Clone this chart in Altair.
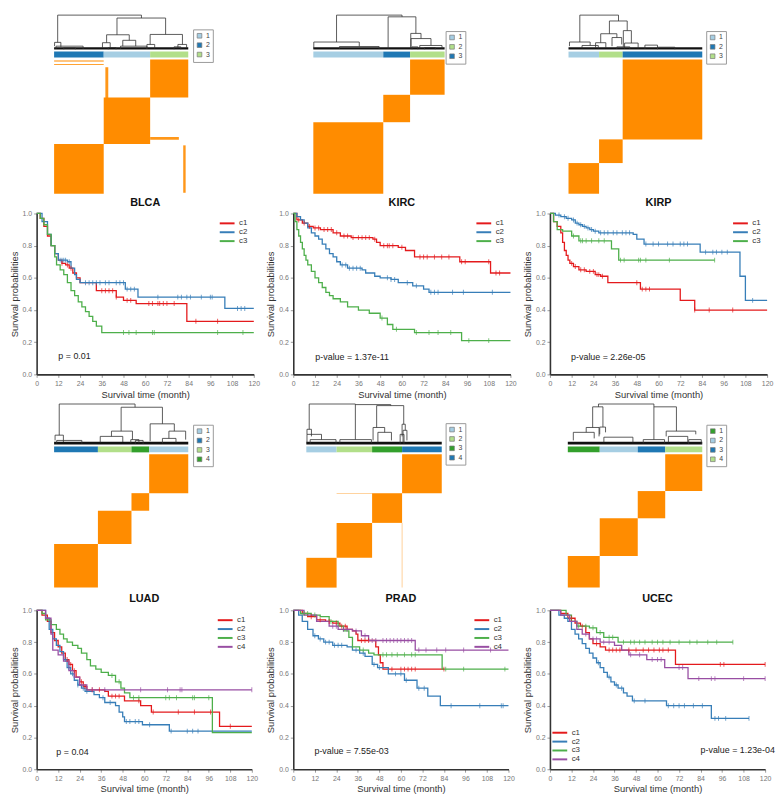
import altair as alt
import numpy as np
import pandas as pd

FONT = "Liberation Sans"
ORANGE = "#ff8c00"
LB, DB, LG, DG = "#a6cee3", "#1f78b4", "#b2df8a", "#33a02c"
KM_COLORS = ["#e41a1c", "#377eb8", "#4daf4a", "#984ea3"]

# ---------------- consensus heatmaps: cluster order, sizes, legend colours ----------------
blca_order = ["2", "1", "3"]
blca_sizes = [51.3, 48.0, 39.4]
blca_palette = {"1": LB, "2": DB, "3": LG}
kirc_order = ["1", "3", "2"]
kirc_sizes = [72.3, 27.7, 35.7]
kirc_palette = {"1": LB, "2": LG, "3": DB}
kirp_order = ["1", "3", "2"]
kirp_sizes = [31.6, 24.4, 82.3]
kirp_palette = {"1": LB, "2": DB, "3": LG}
luad_order = ["2", "3", "4", "1"]
luad_sizes = [45.3, 34.7, 18.3, 40.4]
luad_palette = {"1": LB, "2": DB, "3": LG, "4": DG}
prad_order = ["1", "2", "3", "4"]
prad_sizes = [31.3, 36.7, 31.0, 41.0]
prad_palette = {"1": LB, "2": LG, "3": DG, "4": DB}
ucec_order = ["1", "2", "3", "4"]
ucec_sizes = [33.0, 39.3, 28.4, 38.3]
ucec_palette = {"1": DG, "2": LB, "3": DB, "4": LG}

# dendrogram merges: (left x, right x, height, left child height, right child height)
blca_merges = [(3.7, 90.3, 1.0, 0.21, 0.915), (65, 115.3, 0.915, 0.43, 0.44), (54.3, 77.7, 0.43, 0.2, 0.27),
               (71, 84.4, 0.27, 0.1, 0.1), (68.7, 96, 0.1, 0.02, 0.02), (50, 58, 0.2, 0.05, 0.04),
               (99.3, 132.7, 0.44, 0.15, 0.15), (96, 104, 0.15, 0.03, 0.03), (128, 137, 0.15, 0.04, 0.05),
               (0.5, 7, 0.21, 0.1, 0.08), (2, 30, 0.1, 0.02, 0.02), (56, 64, 0.06, 0.01, 0.01),
               (124, 131, 0.08, 0.01, 0.01), (10, 22, 0.05, 0.01, 0.01)]
kirc_merges = [(24, 91.7, 1.0, 0.22, 0.95), (77.3, 106, 0.95, 0.03, 0.47), (100.7, 111.3, 0.47, 0.03, 0.32),
               (101, 121.6, 0.32, 0.05, 0.12), (110, 133, 0.12, 0.03, 0.03), (0.5, 47.5, 0.22, 0.03, 0.09),
               (27, 68, 0.09, 0.02, 0.02), (102, 108, 0.08, 0.01, 0.01), (115, 126, 0.06, 0.01, 0.01)]
kirp_merges = [(11.7, 51.7, 1.0, 0.22, 0.83), (42.3, 60.7, 0.83, 0.46, 0.55), (33.3, 50, 0.46, 0.2, 0.35),
               (45, 55, 0.35, 0.1, 0.15), (56.7, 65, 0.55, 0.08, 0.19), (58, 72, 0.19, 0.03, 0.03),
               (50, 63.4, 0.08, 0.02, 0.02), (1, 22.4, 0.22, 0.1, 0.12), (14, 30.8, 0.12, 0.03, 0.03),
               (28, 38.6, 0.2, 0.05, 0.05), (79, 92, 0.13, 0.02, 0.02), (92, 110, 0.07, 0.01, 0.01)]
luad_merges = [(5.3, 83.7, 1.0, 0.23, 0.92), (69.3, 112, 0.92, 0.33, 0.51), (59.3, 81, 0.33, 0.2, 0.12),
               (47.7, 71, 0.2, 0.05, 0.06), (79.3, 87.7, 0.12, 0.03, 0.03), (99.3, 124.3, 0.51, 0.08, 0.33),
               (118.7, 136, 0.33, 0.15, 0.12), (112, 126, 0.15, 0.03, 0.04), (1, 9.6, 0.23, 0.1, 0.06),
               (2.7, 28.7, 0.1, 0.02, 0.02), (84, 92, 0.1, 0.01, 0.01)]
prad_merges = [(3, 50.7, 1.0, 0.375, 0.12), (50.7, 87.3, 0.985, 0.985, 0.96), (72.7, 100.7, 0.96, 0.42, 0.5),
               (69, 81, 0.42, 0.1, 0.3), (74, 88, 0.3, 0.05, 0.1), (99, 102.3, 0.5, 0.2, 0.35),
               (100, 104, 0.35, 0.05, 0.1), (0.7, 5.3, 0.375, 0.25, 0.2), (0.7, 15.7, 0.25, 0.05, 0.12),
               (4, 30.7, 0.12, 0.02, 0.02), (34.7, 67.3, 0.12, 0.03, 0.03), (97, 101, 0.25, 0.01, 0.01)]
ucec_merges = [(31.7, 89, 1.0, 0.93, 0.93), (25.7, 36.3, 0.93, 0.42, 0.43), (19, 32.3, 0.42, 0.3, 0.2),
               (5.7, 27.3, 0.3, 0.1, 0.15), (33, 39, 0.43, 0.25, 0.3), (37.3, 67.3, 0.18, 0.05, 0.05),
               (89, 112.3, 0.93, 0.12, 0.33), (78, 100, 0.12, 0.03, 0.03), (101.7, 132.3, 0.33, 0.2, 0.25),
               (104, 124, 0.2, 0.05, 0.05), (125, 138, 0.12, 0.01, 0.01)]

# off-diagonal consensus fragments: (x0, x1, y0, y1, opacity)
blca_extras = [(0, 51.3, 136.5, 137.7, 1.0), (0, 51.3, 133, 134, 0.8), (53, 56, 98.7, 130.7, 0.9),
               (133.5, 136, 1, 50, 0.9), (99.3, 129, 55.7, 58.5, 0.9)]
prad_extras = [(31.3, 99, 98.6, 99.4, 0.5), (98.6, 99.4, 0, 68, 0.5)]

# ---------------- Kaplan-Meier curves (times, survival, censor times) ----------------
blca_c1_t = [0, 2, 4, 6, 8, 10, 12, 14, 16, 18, 20, 22, 24, 33, 44, 48, 55, 83]
blca_c1_s = [1.0, 0.97, 0.92, 0.86, 0.80, 0.75, 0.71, 0.69, 0.68, 0.66, 0.63, 0.60, 0.57, 0.52, 0.48, 0.46, 0.44, 0.33]
blca_c1_c = [14, 17, 19, 36, 38, 40, 42, 44, 50, 52, 62, 64, 67, 68, 70, 72, 76, 88, 100]
blca_c2_t = [0, 3, 6, 8, 10, 12, 17, 19, 21, 22, 24, 49, 56, 104]
blca_c2_s = [1.0, 0.95, 0.87, 0.80, 0.75, 0.71, 0.70, 0.66, 0.62, 0.59, 0.57, 0.53, 0.48, 0.41]
blca_c2_c = [13, 14, 15, 16, 18, 27, 29, 31, 33, 35, 38, 40, 44, 46, 48, 50, 52, 54, 67, 78, 80, 83, 85, 91, 96, 97, 111, 113, 115]
blca_c3_t = [0, 2, 4, 6, 8, 10, 11, 13, 15, 17, 19, 21, 23, 25, 27, 29, 31, 33, 36]
blca_c3_s = [1.0, 0.97, 0.93, 0.87, 0.80, 0.73, 0.68, 0.65, 0.62, 0.57, 0.52, 0.49, 0.45, 0.42, 0.39, 0.36, 0.33, 0.30, 0.26]
blca_c3_c = [48, 51, 55, 64, 65, 100, 114]

kirc_c1_t = [0, 2, 5, 8, 11, 15, 22, 26, 32, 44, 46, 48, 58, 62, 67, 92, 109]
kirc_c1_s = [1.0, 0.96, 0.94, 0.92, 0.91, 0.90, 0.88, 0.86, 0.85, 0.84, 0.82, 0.80, 0.79, 0.77, 0.73, 0.70, 0.63]
kirc_c1_c = [3, 6, 9, 12, 14, 17, 19, 21, 24, 28, 30, 33, 36, 38, 40, 42, 45, 50, 52, 53, 55, 60, 70, 72, 74, 78, 82, 86, 93, 95, 108, 112, 114]
kirc_c2_t = [0, 2, 4, 6, 8, 10, 12, 14, 16, 18, 20, 22, 24, 26, 30, 38, 40, 45, 48, 54, 58, 66, 72, 75]
kirc_c2_s = [1.0, 0.98, 0.96, 0.94, 0.91, 0.88, 0.86, 0.84, 0.81, 0.78, 0.75, 0.73, 0.70, 0.68, 0.66, 0.65, 0.63, 0.61, 0.60, 0.59, 0.57, 0.55, 0.53, 0.51]
kirc_c2_c = [27, 29, 31, 33, 35, 37, 52, 54, 56, 63, 68, 76, 78, 80, 88, 94, 110]
kirc_c3_t = [0, 1, 2, 3, 4, 5, 6, 7, 8, 10, 12, 14, 16, 18, 20, 22, 26, 30, 36, 42, 48, 52, 55, 67, 93]
kirc_c3_s = [1.0, 0.95, 0.90, 0.86, 0.82, 0.78, 0.74, 0.71, 0.68, 0.64, 0.60, 0.57, 0.54, 0.51, 0.49, 0.47, 0.45, 0.42, 0.40, 0.38, 0.35, 0.31, 0.28, 0.26, 0.21]
kirc_c3_c = [49, 57, 68, 75, 80, 87, 97, 108]

kirp_c1_t = [0, 2, 4, 6, 7, 8, 9, 10, 11, 13, 16, 20, 25, 28, 32, 50, 72, 80]
kirp_c1_s = [1.0, 0.95, 0.92, 0.88, 0.82, 0.77, 0.74, 0.71, 0.69, 0.67, 0.65, 0.64, 0.62, 0.61, 0.57, 0.53, 0.46, 0.40]
kirp_c1_c = [12, 14, 17, 19, 22, 24, 26, 27, 29, 48, 51, 53, 55, 80, 88, 101]
kirp_c2_t = [0, 3, 6, 9, 12, 14, 16, 18, 20, 22, 24, 27, 46, 48, 52, 83, 105, 108]
kirp_c2_s = [1.0, 0.99, 0.98, 0.97, 0.96, 0.94, 0.93, 0.92, 0.91, 0.90, 0.89, 0.88, 0.87, 0.84, 0.81, 0.76, 0.61, 0.46]
kirp_c2_c = [5, 8, 10, 13, 15, 17, 19, 21, 23, 25, 28, 30, 32, 35, 37, 40, 42, 44, 53, 57, 60, 65, 68, 72, 74, 76, 86, 90, 92, 95, 98, 112]
kirp_c3_t = [0, 2, 4, 7, 12, 16, 34, 38]
kirp_c3_s = [1.0, 0.95, 0.90, 0.89, 0.86, 0.83, 0.78, 0.71]
kirp_c3_c = [13, 17, 18, 20, 23, 27, 30, 39, 41, 49, 50, 53, 66, 91]

luad_c1_t = [0, 3, 6, 8, 10, 12, 14, 16, 18, 20, 22, 24, 26, 28, 38, 40, 49, 58, 64, 102]
luad_c1_s = [1.0, 0.97, 0.93, 0.86, 0.81, 0.77, 0.73, 0.69, 0.66, 0.62, 0.58, 0.55, 0.52, 0.50, 0.49, 0.46, 0.43, 0.40, 0.36, 0.27]
luad_c1_c = [17, 19, 21, 25, 27, 31, 35, 42, 44, 46, 57, 65, 79, 88, 97, 108]
luad_c2_t = [0, 5, 7, 9, 11, 13, 15, 17, 19, 21, 23, 25, 27, 32, 35, 38, 44, 46, 48, 49, 59, 74]
luad_c2_s = [1.0, 0.95, 0.88, 0.82, 0.78, 0.74, 0.69, 0.64, 0.60, 0.56, 0.53, 0.51, 0.49, 0.47, 0.45, 0.42, 0.40, 0.36, 0.33, 0.30, 0.28, 0.24]
luad_c2_c = [16, 18, 20, 23, 26, 28, 37, 41, 50, 52, 55, 57, 63, 75, 84, 87, 90]
luad_c3_t = [0, 3, 5, 8, 11, 13, 15, 17, 20, 23, 25, 28, 30, 33, 36, 40, 44, 47, 49, 52, 98]
luad_c3_s = [1.0, 0.98, 0.94, 0.91, 0.88, 0.85, 0.82, 0.80, 0.78, 0.76, 0.73, 0.69, 0.65, 0.63, 0.61, 0.59, 0.55, 0.51, 0.48, 0.45, 0.23]
luad_c3_c = [42, 46, 54, 57, 72, 74, 78, 87, 88, 96]
luad_c4_t = [0, 5, 8, 9, 12, 15, 18, 21, 24, 28]
luad_c4_s = [1.0, 0.95, 0.85, 0.75, 0.72, 0.68, 0.62, 0.58, 0.53, 0.50]
luad_c4_c = [31, 38, 58, 73, 80, 81, 120]

prad_c1_t = [0, 5, 8, 13, 18, 22, 26, 30, 33, 35, 36, 46, 47.5, 48.5, 50]
prad_c1_s = [1.0, 0.98, 0.96, 0.94, 0.93, 0.92, 0.90, 0.88, 0.87, 0.85, 0.81, 0.77, 0.72, 0.67, 0.63]
prad_c1_c = [10, 15, 20, 24, 27, 29, 38, 40, 42, 55, 60, 62, 64, 66, 68, 84]
prad_c2_t = [0, 3, 5, 8, 11, 14, 17, 22, 30, 33, 37, 40, 44, 47, 53, 62, 69, 75, 82]
prad_c2_s = [1.0, 0.97, 0.93, 0.88, 0.84, 0.82, 0.80, 0.78, 0.77, 0.75, 0.73, 0.71, 0.66, 0.64, 0.60, 0.56, 0.51, 0.46, 0.40]
prad_c2_c = [12, 15, 18, 20, 23, 25, 27, 35, 39, 45, 48, 57, 60, 63, 70, 73, 88, 104, 116, 117]
prad_c3_t = [0, 4, 10, 15, 20, 25, 28, 31, 33, 37, 42, 45, 83]
prad_c3_s = [1.0, 0.98, 0.97, 0.96, 0.93, 0.90, 0.87, 0.83, 0.77, 0.75, 0.73, 0.72, 0.63]
prad_c3_c = [6, 8, 12, 21, 33, 39, 50, 52, 55, 58, 62, 66, 68, 85, 95, 118]
prad_c4_t = [0, 6, 13, 20, 25, 33, 38, 42, 68]
prad_c4_s = [1.0, 0.97, 0.93, 0.90, 0.88, 0.87, 0.84, 0.81, 0.75]
prad_c4_c = [22, 24, 28, 30, 35, 40, 44, 46, 50, 52, 54, 56, 58, 60, 62, 64, 66, 70, 74, 80, 85, 95, 110]

ucec_c1_t = [0, 6, 10, 14, 17, 20, 22, 24, 28, 31, 70]
ucec_c1_s = [1.0, 0.98, 0.95, 0.92, 0.90, 0.86, 0.82, 0.79, 0.77, 0.75, 0.66]
ucec_c1_c = [12, 18, 26, 33, 35, 37, 39, 44, 48, 52, 55, 58, 61, 63, 66, 95, 97, 120]
ucec_c2_t = [0, 5, 8, 10, 12, 14, 16, 18, 20, 22, 24, 26, 28, 30, 32, 34, 36, 38, 41, 43, 46, 65, 90]
ucec_c2_s = [1.0, 0.97, 0.95, 0.93, 0.88, 0.85, 0.82, 0.79, 0.76, 0.73, 0.70, 0.67, 0.64, 0.61, 0.58, 0.55, 0.53, 0.51, 0.48, 0.46, 0.43, 0.40, 0.32]
ucec_c2_c = [27, 33, 37, 40, 47, 53, 66, 69, 72, 75, 80, 85, 92, 94, 98, 111]
ucec_c3_t = [0, 9, 12, 15, 22, 26, 30, 38]
ucec_c3_s = [1.0, 0.97, 0.93, 0.90, 0.89, 0.86, 0.83, 0.80]
ucec_c3_c = [16, 20, 24, 28, 33, 35, 41, 45, 47, 50, 53, 57, 60, 63, 67, 72, 78, 82, 88, 93, 102]
ucec_c4_t = [0, 6, 11, 15, 18, 22, 28, 36, 40, 44, 54, 64, 77]
ucec_c4_s = [1.0, 0.97, 0.93, 0.88, 0.85, 0.82, 0.80, 0.78, 0.75, 0.72, 0.69, 0.64, 0.57]
ucec_c4_c = [20, 24, 26, 30, 33, 45, 50, 57, 60, 62, 72, 74, 83, 90, 92, 108, 120]

ends_blca = [120, 120, 120]
ends_kirc = [120, 120, 120]
ends_kirp = [120, 120, 91]
ends_luad = [120, 120, 120, 120]
ends_prad = [84, 120, 120, 120]
ends_ucec = [120, 111, 102, 120]

pvals = ["p = 0.01", "p-value = 1.37e-11", "p-value = 2.26e-05",
         "p = 0.04", "p-value = 7.55e-03", "p-value = 1.23e-04"]
pval_x = [12, 12.2, 11.7, 11, 11.8, 84]
pval_y = [0.115, 0.107, 0.107, 0.108, 0.113, 0.123]

XTICKS = list(range(0, 121, 12))
YTICKS = [0.0, 0.2, 0.4, 0.6, 0.8, 1.0]


def heat_panel(order, sizes, palette, merges, extras, width, lp, mw,
               dendro_h, dendro_top, mat_h, mat_pad, lx, ly):
    N = float(sum(sizes))
    u = N / mw
    xs = alt.Scale(domain=[-lp * u, N + (width - lp - mw) * u], nice=False, zero=False)
    ends = np.cumsum(sizes)
    starts = ends - np.array(sizes)
    seg = []
    for xl, xr, h, hl, hr in merges:
        seg.append(dict(x=xl, x2=xr, y=h, y2=h))
        seg.append(dict(x=xl, x2=xl, y=hl, y2=h))
        seg.append(dict(x=xr, x2=xr, y=hr, y2=h))
    seg = pd.DataFrame(seg)
    ys = alt.Scale(domain=[0, dendro_top], nice=False, zero=True)
    fuzz = pd.DataFrame(dict(x=[0.0], x2=[N], y=[0.0], y2=[0.065]))
    fz = alt.Chart(fuzz).mark_rect(color="#111").encode(
        x=alt.X("x:Q", scale=xs, axis=None), x2="x2:Q",
        y=alt.Y("y:Q", scale=ys, axis=None), y2="y2:Q")
    dn = alt.Chart(seg).mark_rule(color="#333", strokeWidth=0.8).encode(
        x=alt.X("x:Q", scale=xs, axis=None), x2="x2:Q",
        y=alt.Y("y:Q", scale=ys, axis=None), y2="y2:Q")
    dend = alt.layer(fz, dn).properties(width=width, height=dendro_h)

    labs = sorted(palette)
    bar_df = pd.DataFrame(dict(label=order, start=starts, end=ends))
    bar = alt.Chart(bar_df).mark_rect().encode(
        x=alt.X("start:Q", scale=xs, axis=None), x2="end:Q",
        color=alt.Color("label:N",
                        scale=alt.Scale(domain=labs, range=[palette[k] for k in labs]),
                        legend=alt.Legend(title=None, orient="none", legendX=lx, legendY=ly,
                                          symbolType="square", symbolSize=22,
                                          symbolStrokeColor="#777", symbolStrokeWidth=0.7,
                                          labelFontSize=7, labelColor="#444", labelOffset=3,
                                          strokeColor="#999", fillColor="white", padding=3,
                                          rowPadding=0.5)),
    ).properties(width=width, height=6)

    rows = [dict(x0=a, x1=b, y0=a, y1=b, op=1.0) for a, b in zip(starts, ends)]
    rows += [dict(x0=a, x1=b, y0=c, y1=d, op=o) for a, b, c, d, o in extras]
    mat = alt.Chart(pd.DataFrame(rows)).mark_rect(color=ORANGE).encode(
        x=alt.X("x0:Q", scale=xs, axis=None), x2="x1:Q",
        y=alt.Y("y0:Q", scale=alt.Scale(domain=[-N * mat_pad / mat_h, N], nice=False, zero=False),
                axis=None), y2="y1:Q",
        opacity=alt.Opacity("op:Q", scale=None, legend=None),
    ).properties(width=width, height=mat_h + mat_pad)
    return dend, bar, mat


def km_chart(title, ts, ss, ends, cens, ptext, px, py, width, height, lorient, loffset):
    names = ["c%d" % (i + 1) for i in range(len(ts))]
    lrows, crows = [], []
    for name, t, s, e, c in zip(names, ts, ss, ends, cens):
        for a, b in zip(list(t) + [e], list(s) + [s[-1]]):
            lrows.append(dict(cluster=name, time=a, surv=b))
        ta, sa = np.array(t, dtype=float), np.array(s, dtype=float)
        for ct in c:
            idx = np.searchsorted(ta, ct, side="right") - 1
            crows.append(dict(cluster=name, time=ct, surv=sa[idx]))
    cscale = alt.Scale(domain=names, range=KM_COLORS[:len(names)])
    xs = alt.Scale(domain=[0, 120], nice=False)
    ys = alt.Scale(domain=[0, 1], nice=False)
    common = dict(labelFontSize=7, labelColor="#777", tickColor="#999", tickSize=3,
                  domainColor="#333", domainWidth=1.6, titleFontSize=9.5, titleColor="#333",
                  titleFontWeight="normal", titlePadding=3, labelPadding=2, grid=False,
                  labelOverlap=False, labelFlush=False)
    xax = alt.Axis(values=XTICKS, title="Survival time (month)", **common)
    yax = alt.Axis(values=YTICKS, format=".1f", title="Survival probabilities", **common)
    lines = alt.Chart(pd.DataFrame(lrows)).mark_line(interpolate="step-after", strokeWidth=1.3).encode(
        x=alt.X("time:Q", scale=xs, axis=xax),
        y=alt.Y("surv:Q", scale=ys, axis=yax),
        color=alt.Color("cluster:N", scale=cscale,
                        legend=alt.Legend(title=None, orient=lorient, offset=loffset,
                                          symbolType="M-2.5,0L2.5,0", symbolSize=36,
                                          symbolStrokeWidth=2, labelFontSize=8, labelColor="#333",
                                          labelOffset=8, rowPadding=1, padding=0)))
    ticks = alt.Chart(pd.DataFrame(crows)).mark_tick(orient="vertical", size=5, thickness=1).encode(
        x=alt.X("time:Q", scale=xs, axis=xax), y=alt.Y("surv:Q", scale=ys, axis=yax),
        color=alt.Color("cluster:N", scale=cscale, legend=None))
    txt = alt.Chart(pd.DataFrame(dict(x=[px], y=[py], label=[ptext]))).mark_text(
        align="left", baseline="middle", fontSize=9, color="#222").encode(
        x=alt.X("x:Q", scale=xs, axis=xax), y=alt.Y("y:Q", scale=ys, axis=yax), text="label:N")
    return alt.layer(lines, ticks, txt).properties(
        width=width, height=height,
        title=alt.Title(title, fontSize=11, fontWeight="bold", offset=2, color="#111"))


W1, W2 = 220, 218
GAP1, GAP2 = 18, 21  # blank band below each matrix (chart spacing is 2)
h_blca = heat_panel(blca_order, blca_sizes, blca_palette, blca_merges, blca_extras, W1, 17.7, 135.9, 36, 1.03, 136, GAP1, 158.5, -22.5)
h_kirc = heat_panel(kirc_order, kirc_sizes, kirc_palette, kirc_merges, [], W1, 20.3, 133.0, 36, 1.03, 136, GAP1, 154.3, -20.8)
h_kirp = heat_panel(kirp_order, kirp_sizes, kirp_palette, kirp_merges, [], W1, 18.8, 135.5, 36, 1.03, 136, GAP1, 158.3, -20.8)
h_luad = heat_panel(luad_order, luad_sizes, luad_palette, luad_merges, [], W1, 17.7, 135.9, 69, 69 / 41, 135, GAP2, 158.5, -22)
h_prad = heat_panel(prad_order, prad_sizes, prad_palette, prad_merges, prad_extras, W1, 13.2, 137.2, 69, 69 / 41, 135, GAP2, 154.3, -23.6)
h_ucec = heat_panel(ucec_order, ucec_sizes, ucec_palette, ucec_merges, [], W1, 18.1, 136.2, 69, 69 / 41, 135, GAP2, 158.5, -22)

k_blca = km_chart("BLCA", [blca_c1_t, blca_c2_t, blca_c3_t], [blca_c1_s, blca_c2_s, blca_c3_s], ends_blca,
                  [blca_c1_c, blca_c2_c, blca_c3_c], pvals[0], pval_x[0], pval_y[0], W1, 163, "top-right", 6)
k_kirc = km_chart("KIRC", [kirc_c1_t, kirc_c2_t, kirc_c3_t], [kirc_c1_s, kirc_c2_s, kirc_c3_s], ends_kirc,
                  [kirc_c1_c, kirc_c2_c, kirc_c3_c], pvals[1], pval_x[1], pval_y[1], W1, 163, "top-right", 6)
k_kirp = km_chart("KIRP", [kirp_c1_t, kirp_c2_t, kirp_c3_t], [kirp_c1_s, kirp_c2_s, kirp_c3_s], ends_kirp,
                  [kirp_c1_c, kirp_c2_c, kirp_c3_c], pvals[2], pval_x[2], pval_y[2], W1, 163, "top-right", 6)
k_luad = km_chart("LUAD", [luad_c1_t, luad_c2_t, luad_c3_t, luad_c4_t], [luad_c1_s, luad_c2_s, luad_c3_s, luad_c4_s],
                  ends_luad, [luad_c1_c, luad_c2_c, luad_c3_c, luad_c4_c], pvals[3], pval_x[3], pval_y[3], W2, 161, "top-right", 6)
k_prad = km_chart("PRAD", [prad_c1_t, prad_c2_t, prad_c3_t, prad_c4_t], [prad_c1_s, prad_c2_s, prad_c3_s, prad_c4_s],
                  ends_prad, [prad_c1_c, prad_c2_c, prad_c3_c, prad_c4_c], pvals[4], pval_x[4], pval_y[4], W2, 161, "top-right", 6)
k_ucec = km_chart("UCEC", [ucec_c1_t, ucec_c2_t, ucec_c3_t, ucec_c4_t], [ucec_c1_s, ucec_c2_s, ucec_c3_s, ucec_c4_s],
                  ends_ucec, [ucec_c1_c, ucec_c2_c, ucec_c3_c, ucec_c4_c], pvals[5], pval_x[5], pval_y[5], W2, 161, "bottom-left", 6)

cells = [
    h_blca[0], h_kirc[0], h_kirp[0],
    h_blca[1], h_kirc[1], h_kirp[1],
    h_blca[2], h_kirc[2], h_kirp[2],
    k_blca, k_kirc, k_kirp,
    h_luad[0], h_prad[0], h_ucec[0],
    h_luad[1], h_prad[1], h_ucec[1],
    h_luad[2], h_prad[2], h_ucec[2],
    k_luad, k_prad, k_ucec,
]

chart = alt.concat(*cells, columns=3, align="each", bounds="flush",
                   spacing=alt.RowColnumber(row=2, column=40)).resolve_scale(
    x="independent", y="independent", color="independent"
).properties(padding={"left": 1, "top": 1, "right": 1, "bottom": 1}
).configure(font=FONT).configure_view(stroke=None).configure_axis(labelOverlap=False)

chart.save("out.html", embed_options={"renderer": "svg", "actions": False})
